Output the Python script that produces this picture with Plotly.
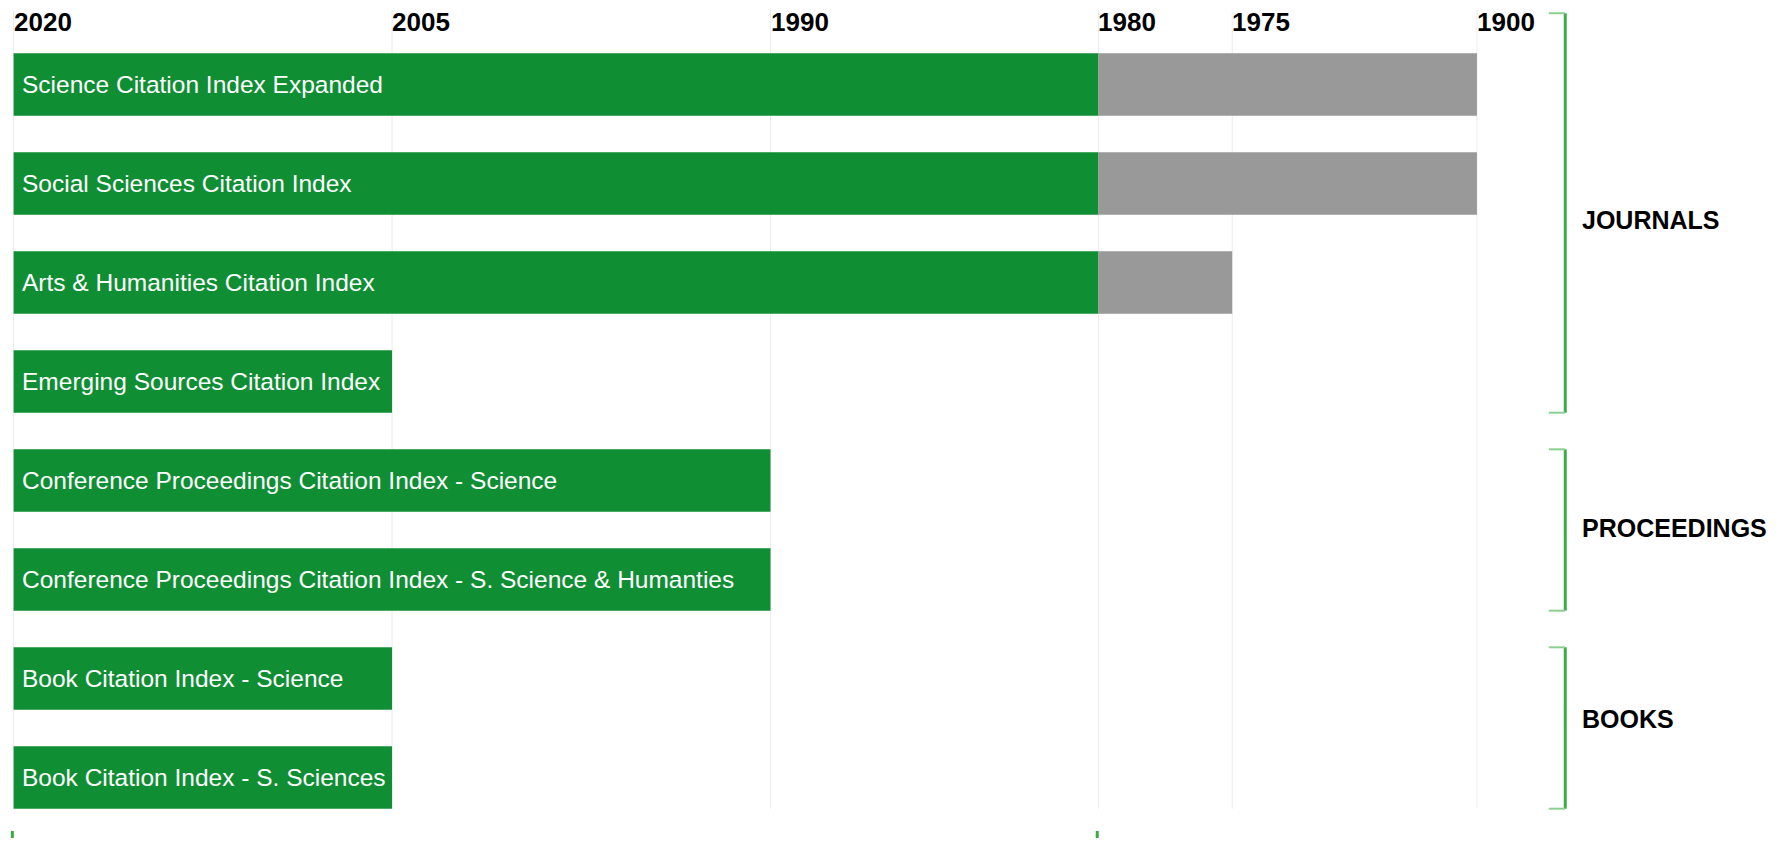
import plotly.graph_objects as go

# ---- data ----
categories = [
    "Science Citation Index Expanded",
    "Social Sciences Citation Index",
    "Arts & Humanities Citation Index",
    "Emerging Sources Citation Index",
    "Conference Proceedings Citation Index - Science",
    "Conference Proceedings Citation Index - S. Science & Humanties",
    "Book Citation Index - Science",
    "Book Citation Index - S. Sciences",
]
coverage_from = [2020, 2020, 2020, 2020, 2020, 2020, 2020, 2020]
green_until = [1980, 1980, 1980, 2005, 1990, 1990, 2005, 2005]
grey_until = [1900, 1900, 1975, None, None, None, None, None]

tick_years = [2020, 2005, 1990, 1980, 1975, 1900]
tick_pos = [0, 15, 30, 43, 48.3, 58]  # the chart's own (non-linear) timeline scale

groups = ["JOURNALS", "PROCEEDINGS", "BOOKS"]
group_first = [0, 4, 6]
group_last = [3, 5, 7]

bottom_marks = [2020, 1980]

# ---- styles ----
GREEN = "#108E34"
GREY = "#999999"
BRACKET = "#3DAA48"
STUB_COLOR = "#8ccf93"
GRID = "#ececec"
FONT = "Liberation Sans, Arial, sans-serif"
LABEL_DY = [0.07, -0.02, -0.09]  # fine vertical offsets of group labels

year_to_pos = dict(zip(tick_years, tick_pos))
rows = list(range(len(categories)))
BAR_W = 0.63
HALF = BAR_W / 2

fig = go.Figure()

# green bars
fig.add_trace(go.Bar(
    orientation="h",
    y=rows,
    base=[year_to_pos[s] for s in coverage_from],
    x=[year_to_pos[e] - year_to_pos[s] for s, e in zip(coverage_from, green_until)],
    width=BAR_W,
    marker=dict(color=GREEN, line=dict(width=0)),
    hoverinfo="skip",
    showlegend=False,
))

# grey bars (older coverage)
g_rows, g_base, g_len = [], [], []
for r, s, e in zip(rows, green_until, grey_until):
    if e is not None:
        g_rows.append(r)
        g_base.append(year_to_pos[s])
        g_len.append(year_to_pos[e] - year_to_pos[s])
fig.add_trace(go.Bar(
    orientation="h",
    y=g_rows,
    base=g_base,
    x=g_len,
    width=BAR_W,
    marker=dict(color=GREY, line=dict(width=0)),
    hoverinfo="skip",
    showlegend=False,
))

shapes = []
annotations = []

# vertical gridlines + tick labels
top_y = -0.75
for yr in tick_years:
    p = year_to_pos[yr]
    shapes.append(dict(type="line", xref="x", yref="y", x0=p, x1=p,
                       y0=top_y, y1=rows[-1] + HALF,
                       line=dict(color=GRID, width=1), layer="below"))
    annotations.append(dict(x=p, y=-0.63, xref="x", yref="y", text=str(yr),
                            xanchor="left", yanchor="middle", showarrow=False,
                            xshift=-2,
                            font=dict(family=FONT, size=26, color="#000000",
                                      weight="bold")))

# bar labels
for r, name, s in zip(rows, categories, coverage_from):
    annotations.append(dict(x=year_to_pos[s], y=r, xref="x", yref="y", text=name,
                            xanchor="left", yanchor="middle", showarrow=False,
                            xshift=6,
                            font=dict(family=FONT, size=24.5, color="white")))

# group brackets
BX = 61.5
STUB = 0.65
for gi, (g, a, b) in enumerate(zip(groups, group_first, group_last)):
    y0 = (a - HALF) if gi > 0 else (a - 0.72)
    y1 = b + HALF
    shapes.append(dict(type="line", xref="x", yref="y", x0=BX, x1=BX, y0=y0, y1=y1,
                       line=dict(color=BRACKET, width=3)))
    for yy in (y0, y1):
        shapes.append(dict(type="line", xref="x", yref="y", x0=BX - STUB, x1=BX,
                           y0=yy, y1=yy, line=dict(color=STUB_COLOR, width=2)))
    annotations.append(dict(x=BX + 0.58, y=(y0 + y1) / 2 + LABEL_DY[gi],
                            xref="x", yref="y", text=g,
                            xanchor="left", yanchor="middle", showarrow=False,
                            font=dict(family=FONT, size=25, color="#000000",
                                      weight="bold")))

# bottom marks
for yr in bottom_marks:
    p = year_to_pos[yr]
    shapes.append(dict(type="line", xref="x", yref="y", x0=p - 0.05, x1=p - 0.05,
                       y0=rows[-1] + 0.54, y1=rows[-1] + 0.8,
                       line=dict(color=BRACKET, width=3)))

W, H = 1766, 830
PX_PER_UNIT = 25.23
X0_PX = 5.6
ROW_PX = 99.0
Y0_PX = 76.5

fig.update_layout(
    width=W, height=H,
    margin=dict(l=0, r=0, t=0, b=0),
    paper_bgcolor="white", plot_bgcolor="white",
    barmode="overlay",
    xaxis=dict(range=[-X0_PX / PX_PER_UNIT, (W - X0_PX) / PX_PER_UNIT],
               showgrid=False, zeroline=False, showticklabels=False,
               showline=False, fixedrange=True),
    yaxis=dict(range=[(H - Y0_PX) / ROW_PX, -Y0_PX / ROW_PX],
               showgrid=False, zeroline=False, showticklabels=False,
               showline=False, fixedrange=True),
    shapes=shapes,
    annotations=annotations,
    font=dict(family=FONT),
)

fig.write_html("out.html")
